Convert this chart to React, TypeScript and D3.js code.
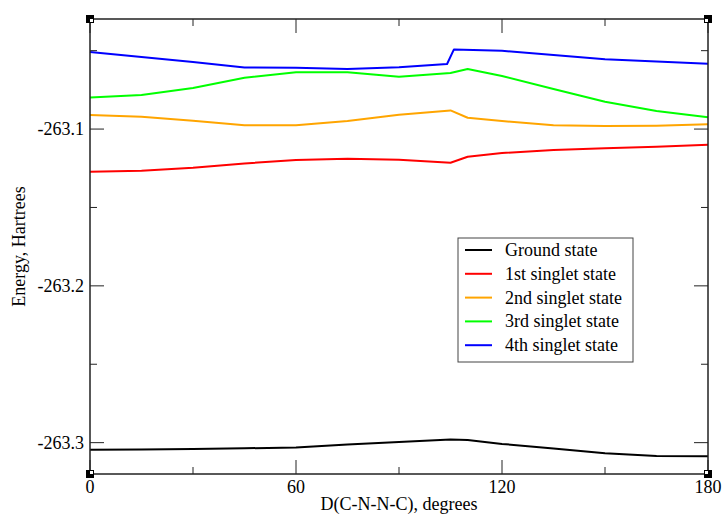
import React from "react";
import * as d3 from "d3";

// dihedral angle D(C-N-N-C), degrees
const angles = [0, 15, 30, 45, 60, 75, 90, 105, 110, 120, 135, 150, 165, 180];
// the 4th singlet has its own grid: it jumps between 104 and 106 degrees
const blueAngles = [0, 15, 30, 45, 60, 75, 90, 104, 106, 120, 135, 150, 165, 180];

const ground = [-263.3045, -263.3043, -263.304, -263.3036, -263.3031, -263.3012, -263.2996, -263.298, -263.2983, -263.3008, -263.3037, -263.3068, -263.3085, -263.3087];
const singlet1 = [-263.1272, -263.1266, -263.1247, -263.1219, -263.1198, -263.1189, -263.1195, -263.1215, -263.1177, -263.1153, -263.1134, -263.1123, -263.1113, -263.11];
const singlet2 = [-263.0911, -263.0922, -263.0947, -263.0976, -263.0976, -263.0949, -263.0908, -263.0881, -263.0928, -263.0949, -263.0976, -263.0981, -263.0979, -263.097];
const singlet3 = [-263.0798, -263.0783, -263.0738, -263.0673, -263.0638, -263.0638, -263.0666, -263.0643, -263.0617, -263.0662, -263.0745, -263.0826, -263.0885, -263.0925];
const singlet4 = [-263.0509, -263.0541, -263.0573, -263.0607, -263.0609, -263.0617, -263.0605, -263.0585, -263.0492, -263.0501, -263.0528, -263.0555, -263.0569, -263.0584];

const seriesNames = ["Ground state", "1st singlet state", "2nd singlet state", "3rd singlet state", "4th singlet state"];
const seriesColors = ["#000000", "#ff0000", "#ffa500", "#00ff00", "#0000ff"];

const xMajor = [0, 60, 120, 180];
const xMinor = [30, 90, 150];
const yMajor = [-263.3, -263.2, -263.1];
const yMinor = [-263.25, -263.15, -263.05];

const W = 723;
const H = 516;
const left = 90, right = 708, top = 19, bottom = 474;
const font = "'Liberation Serif', 'Times New Roman', serif";

export default function App() {
  const x = d3.scaleLinear().domain([0, 180]).range([left, right]);
  const y = d3.scaleLinear().domain([-263.32, -263.0298]).range([bottom, top]);

  const data = [
    { xs: angles, ys: ground },
    { xs: angles, ys: singlet1 },
    { xs: angles, ys: singlet2 },
    { xs: angles, ys: singlet3 },
    { xs: blueAngles, ys: singlet4 },
  ];

  const line = d3
    .line<[number, number]>()
    .x((d) => x(d[0]))
    .y((d) => y(d[1]));

  const major = 14;
  const minor = 7;

  // legend box
  const lg = { x: 458, y: 238, w: 175, h: 124, row0: 250, step: 23.8 };

  const corners = [
    [left, top, 1, 1],
    [left, bottom, 1, -1],
    [right, top, -1, 1],
    [right, bottom, -1, -1],
  ];

  return (
    <svg width={W} height={H} style={{ position: "absolute", left: 0, top: 0, background: "#fff" }} fontFamily={font}>
      {/* data */}
      {data.map((s, i) => (
        <path
          key={i}
          d={line(s.xs.map((a, j) => [a, s.ys[j]] as [number, number])) || ""}
          fill="none"
          stroke={seriesColors[i]}
          strokeWidth={2}
          strokeLinejoin="round"
        />
      ))}

      {/* frame */}
      <rect x={left} y={top} width={right - left} height={bottom - top} fill="none" stroke="#222" strokeWidth={1.5} />

      {/* x ticks, bottom and top, pointing in */}
      {xMajor.map((t) => (
        <g key={"xM" + t}>
          <line x1={x(t)} x2={x(t)} y1={bottom} y2={bottom - major} stroke="#222" />
          <line x1={x(t)} x2={x(t)} y1={top} y2={top + major} stroke="#222" />
          <text x={x(t)} y={493} fontSize={18} textAnchor="middle" fill="#000">
            {t}
          </text>
        </g>
      ))}
      {xMinor.map((t) => (
        <g key={"xm" + t}>
          <line x1={x(t)} x2={x(t)} y1={bottom} y2={bottom - minor} stroke="#222" />
          <line x1={x(t)} x2={x(t)} y1={top} y2={top + minor} stroke="#222" />
        </g>
      ))}

      {/* y ticks, left and right */}
      {yMajor.map((t) => (
        <g key={"yM" + t}>
          <line x1={left} x2={left + major} y1={y(t)} y2={y(t)} stroke="#222" />
          <line x1={right} x2={right - major} y1={y(t)} y2={y(t)} stroke="#222" />
          <text x={84} y={y(t) + 6} fontSize={18} textAnchor="end" fill="#000">
            {d3.format(".1f")(t).replace("−", "-")}
          </text>
        </g>
      ))}
      {yMinor.map((t) => (
        <g key={"ym" + t}>
          <line x1={left} x2={left + minor} y1={y(t)} y2={y(t)} stroke="#222" />
          <line x1={right} x2={right - minor} y1={y(t)} y2={y(t)} stroke="#222" />
        </g>
      ))}

      {/* axis titles */}
      <text x={(left + right) / 2} y={510} fontSize={18} textAnchor="middle" fill="#000">
        D(C-N-N-C), degrees
      </text>
      <text
        transform={`translate(25,${(top + bottom) / 2}) rotate(-90)`}
        fontSize={18}
        textAnchor="middle"
        fill="#000"
      >
        Energy, Hartrees
      </text>

      {/* legend */}
      <rect x={lg.x} y={lg.y} width={lg.w} height={lg.h} fill="#fff" stroke="#444" strokeWidth={1} />
      {seriesNames.map((n, i) => {
        const ry = lg.row0 + i * lg.step;
        return (
          <g key={n}>
            <line x1={465} x2={492} y1={ry} y2={ry} stroke={seriesColors[i]} strokeWidth={2} />
            <text x={505} y={ry + 6} fontSize={18} fill="#000">
              {n}
            </text>
          </g>
        );
      })}

      {/* selection handles at the corners */}
      {corners.map(([cx, cy, dx, dy], i) => (
        <g key={"c" + i}>
          <rect x={cx - 4} y={cy - 4} width={8} height={8} fill="#000" />
          <rect x={dx > 0 ? cx : cx - 3} y={dy > 0 ? cy : cy - 3} width={3} height={3} fill="#fff" />
        </g>
      ))}
    </svg>
  );
}
